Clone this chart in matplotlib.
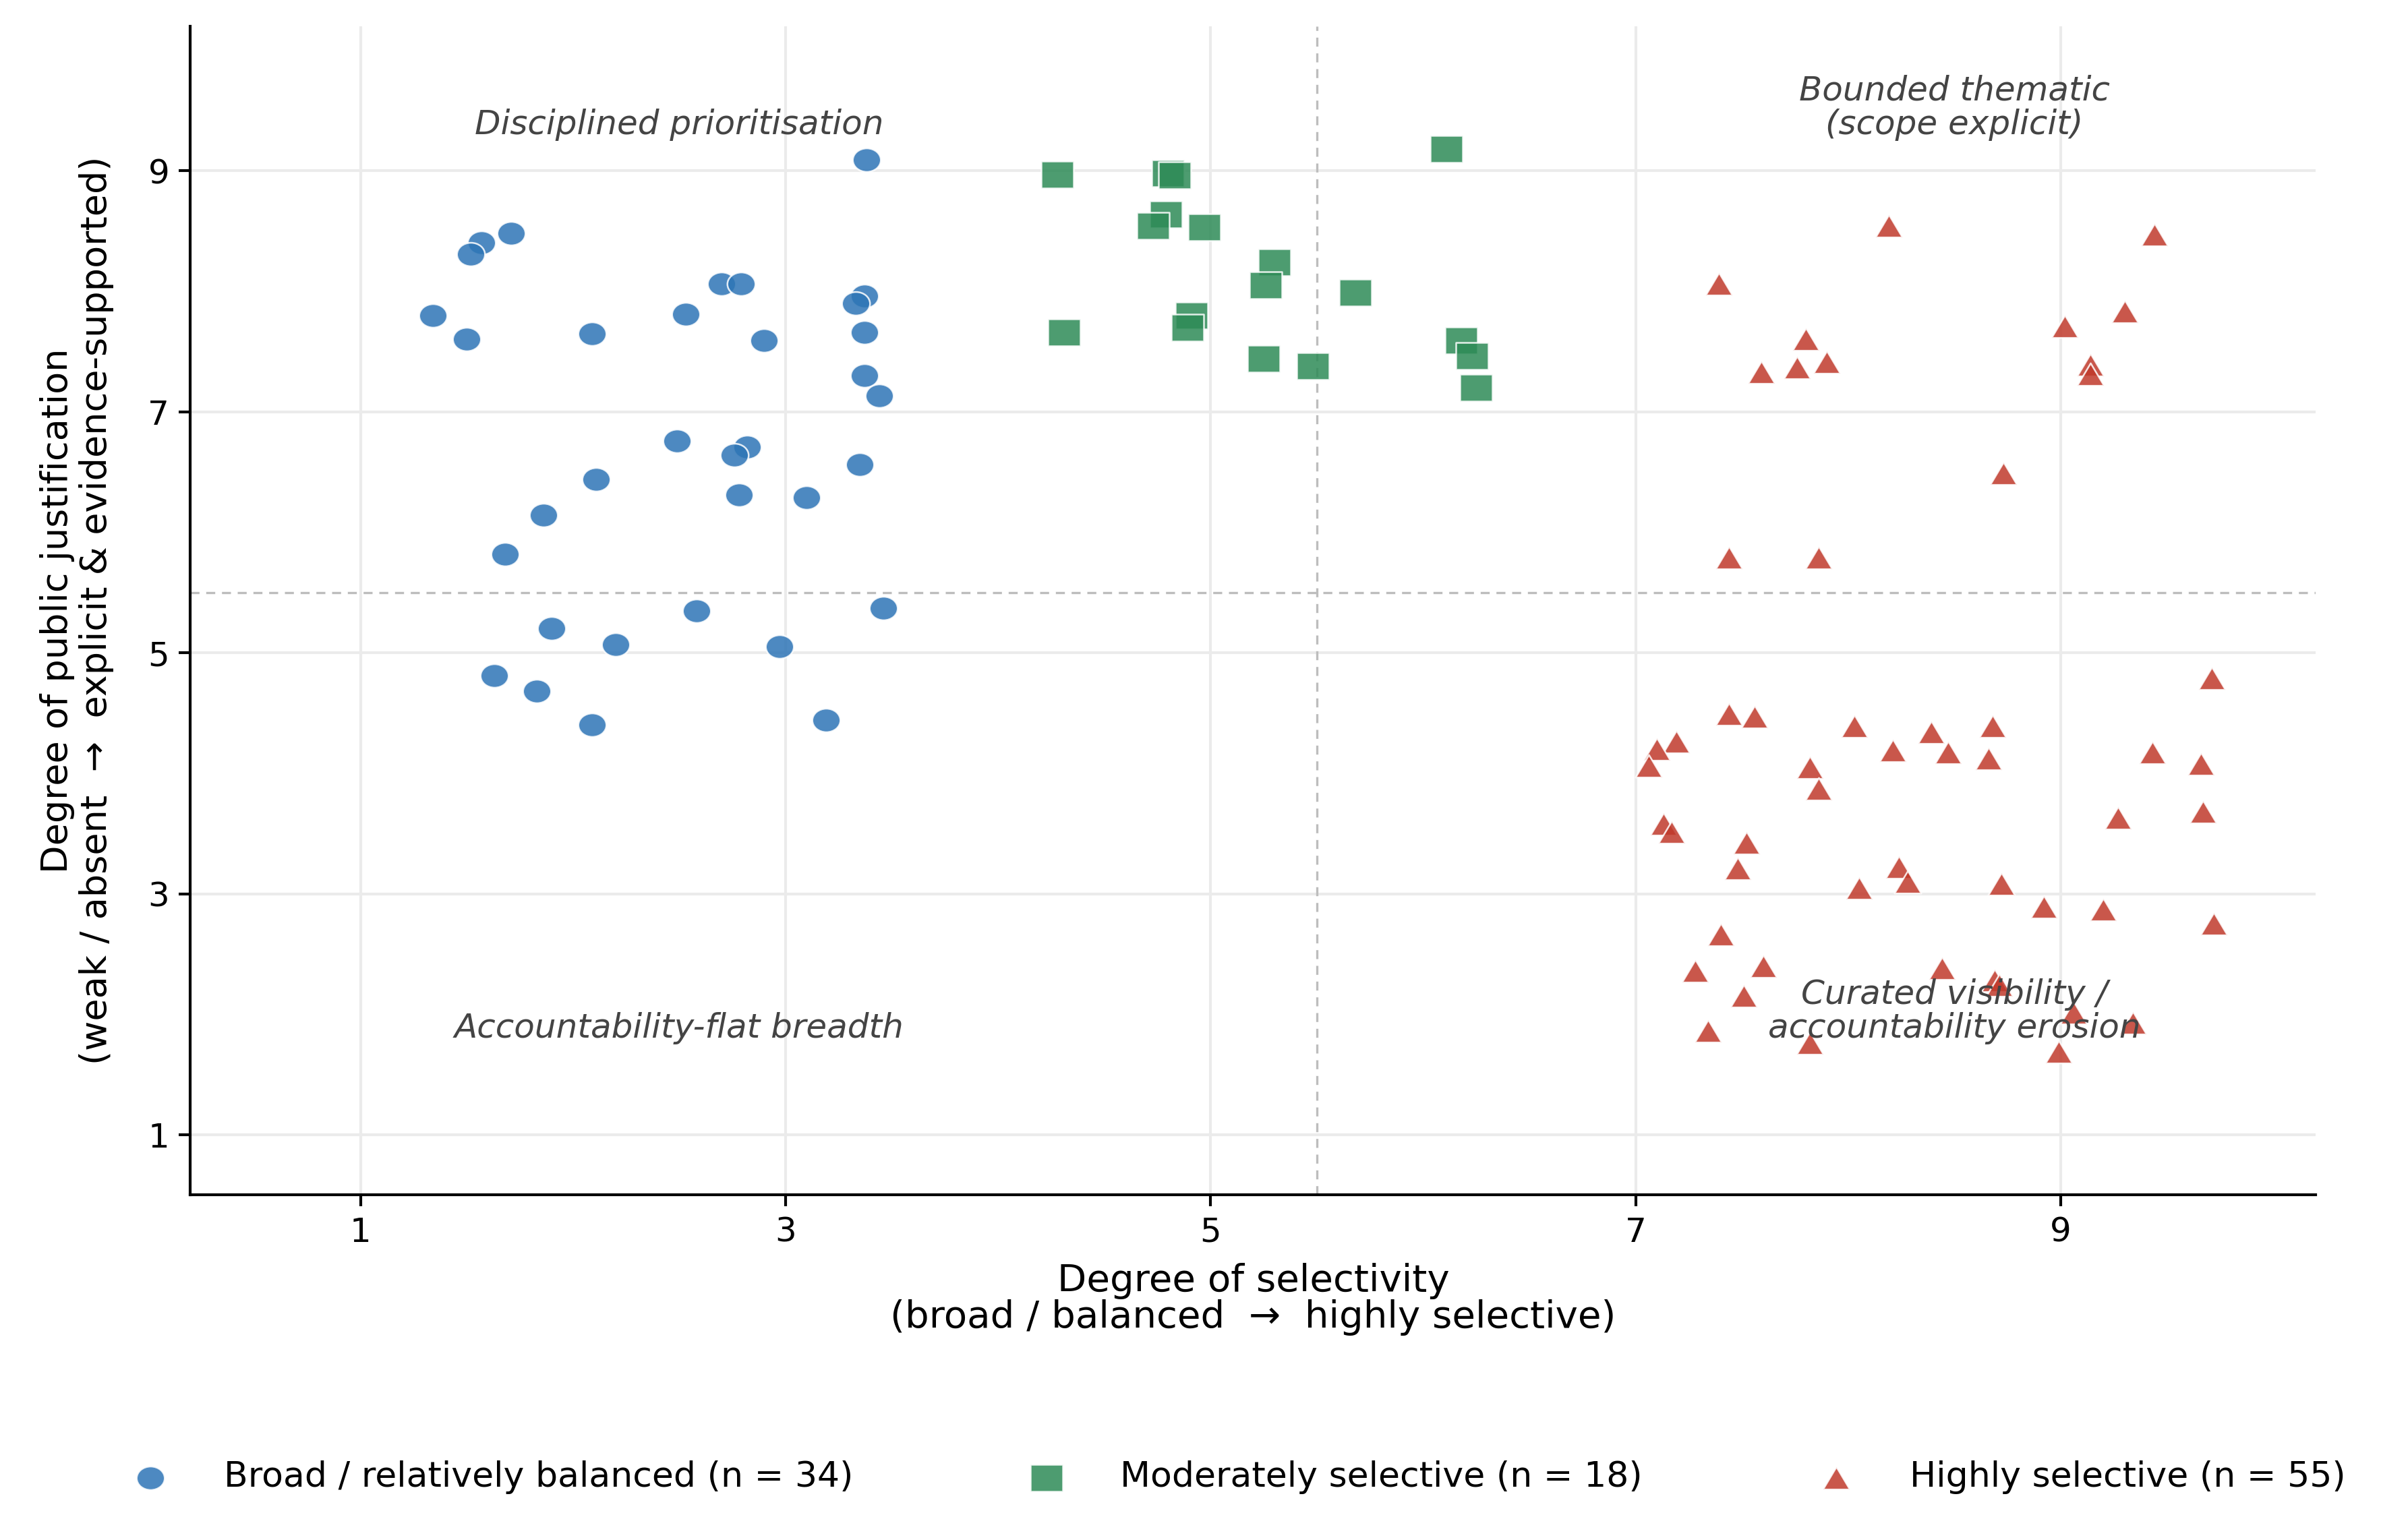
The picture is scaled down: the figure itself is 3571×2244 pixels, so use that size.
import numpy as np
import matplotlib
matplotlib.use("Agg")
import matplotlib.pyplot as plt
from matplotlib.markers import MarkerStyle
from matplotlib.transforms import Affine2D

# points (selectivity, justification)
broad_x = [3.38, 1.57, 1.52, 1.71, 2.70, 2.79, 3.37, 3.33, 1.34, 1.50, 2.09, 2.53,
           2.90, 3.37, 3.37, 3.44, 2.49, 2.82, 2.76, 3.35, 2.11, 2.78, 3.10, 1.86,
           1.68, 3.46, 2.58, 1.90, 2.20, 2.97, 1.63, 1.83, 2.09, 3.19]
broad_y = [9.09, 8.40, 8.31, 8.48, 8.06, 8.06, 7.96, 7.90, 7.80, 7.60, 7.65, 7.81,
           7.59, 7.66, 7.30, 7.13, 6.76, 6.71, 6.64, 6.56, 6.44, 6.31, 6.29, 6.14,
           5.82, 5.37, 5.35, 5.20, 5.07, 5.05, 4.81, 4.68, 4.40, 4.44]

moderate_x = [6.11, 4.28, 4.80, 4.83, 4.79, 4.73, 4.97, 5.30, 5.26, 5.68, 4.91, 4.89,
              4.31, 6.18, 6.23, 5.25, 5.48, 6.25]
moderate_y = [9.18, 8.97, 8.98, 8.96, 8.64, 8.54, 8.53, 8.24, 8.05, 7.99, 7.80, 7.70,
              7.66, 7.59, 7.46, 7.44, 7.38, 7.20]

high_x = [8.19, 9.44, 7.39, 9.30, 9.02, 7.80, 7.90, 7.76, 7.59, 9.14, 9.14, 8.73,
          7.44, 7.86,
          7.44, 7.56, 8.03, 8.39, 7.19, 7.10, 7.06, 8.21, 8.47, 7.82, 7.86, 7.13,
          7.17, 7.52, 7.48, 8.24, 8.28, 8.05, 7.40, 7.28, 7.60, 8.44, 7.51, 7.34,
          7.82,
          9.71, 8.68, 8.66, 9.43, 9.66, 9.27, 9.67, 8.72, 8.92, 9.20, 9.72, 8.69,
          8.71, 9.06, 9.34, 8.99]
high_y = [8.54, 8.47, 8.06, 7.83, 7.71, 7.60, 7.41, 7.37, 7.33, 7.39, 7.31, 6.49,
          5.79, 5.79,
          4.49, 4.47, 4.39, 4.34, 4.26, 4.20, 4.06, 4.19, 4.17, 4.05, 3.87, 3.58,
          3.51, 3.42, 3.21, 3.22, 3.10, 3.05, 2.66, 2.36, 2.40, 2.38, 2.15, 1.86,
          1.76,
          4.79, 4.39, 4.12, 4.17, 4.08, 3.63, 3.68, 3.08, 2.89, 2.87, 2.75, 2.28,
          2.24, 2.01, 1.93, 1.69]

ticks = [1, 3, 5, 7, 9]
quadrant_notes = [
    (2.5, 9.25, "Disciplined prioritisation"),
    (8.5, 9.25, "Bounded thematic\n(scope explicit)"),
    (2.5, 1.75, "Accountability-flat breadth"),
    (8.5, 1.75, "Curated visibility /\naccountability erosion"),
]

plt.rcParams['font.family'] = ['DejaVu Sans']

fig = plt.figure(figsize=(3571 / 300, 2244 / 300), dpi=300)
ax = fig.add_axes([0.0791, 0.2102, 0.8826, 0.7725])

# the reference is stretched sideways, so the markers are a little wide
stretch = Affine2D().scale(1.19, 1.0)

groups = [
    (broad_x, broad_y, "o", 70, "#2e75b6", "Broad / relatively balanced"),
    (moderate_x, moderate_y, "s", 92, "#2e8b57", "Moderately selective"),
    (high_x, high_y, "^", 64, "#c0392b", "Highly selective"),
]
for xs, ys, mk, size, col, name in groups:
    ax.scatter(xs, ys, marker=MarkerStyle(mk, transform=stretch), s=size,
               color=col, alpha=0.85, edgecolor="white", linewidth=0.6,
               zorder=3, label=f"{name} (n = {len(xs)})")

ax.axvline(5.5, color="#bdbdbd", linestyle=(0, (4, 3)), linewidth=0.8, zorder=2)
ax.axhline(5.5, color="#bdbdbd", linestyle=(0, (4, 3)), linewidth=0.8, zorder=2)

for x, y, note in quadrant_notes:
    ax.text(x, y, note, ha="center", va="bottom", fontsize=12, style="italic",
            color="#444444", zorder=5, linespacing=1.05)

ax.set_xlim(0.2, 10.2)
ax.set_ylim(0.5, 10.2)
ax.set_xticks(ticks)
ax.set_yticks(ticks)
ax.grid(True, color="#ebebeb", linewidth=1.0, zorder=0)
ax.set_axisbelow(True)
for side in ["top", "right"]:
    ax.spines[side].set_visible(False)
for side in ["left", "bottom"]:
    ax.spines[side].set_linewidth(1.0)
ax.tick_params(axis="both", direction="out", length=4, width=1.0, labelsize=12)

ax.set_xlabel("Degree of selectivity\n(broad / balanced  \u2192  highly selective)",
              fontsize=13.5, va="top", linespacing=1.0)
ax.xaxis.set_label_coords(0.5, -0.058)
ax.set_ylabel("Degree of public justification\n(weak / absent  \u2192  explicit & evidence-supported)",
              fontsize=13, linespacing=1.15)
ax.yaxis.set_label_coords(-0.036, 0.5)

handles, labels = ax.get_legend_handles_labels()
fig.legend(handles, labels, loc="center left", bbox_to_anchor=(0.042, 0.0234),
           ncol=3, frameon=False, fontsize=12.5, columnspacing=4.5,
           handletextpad=1.1, borderaxespad=0)

fig.savefig("out.png", dpi=300)
